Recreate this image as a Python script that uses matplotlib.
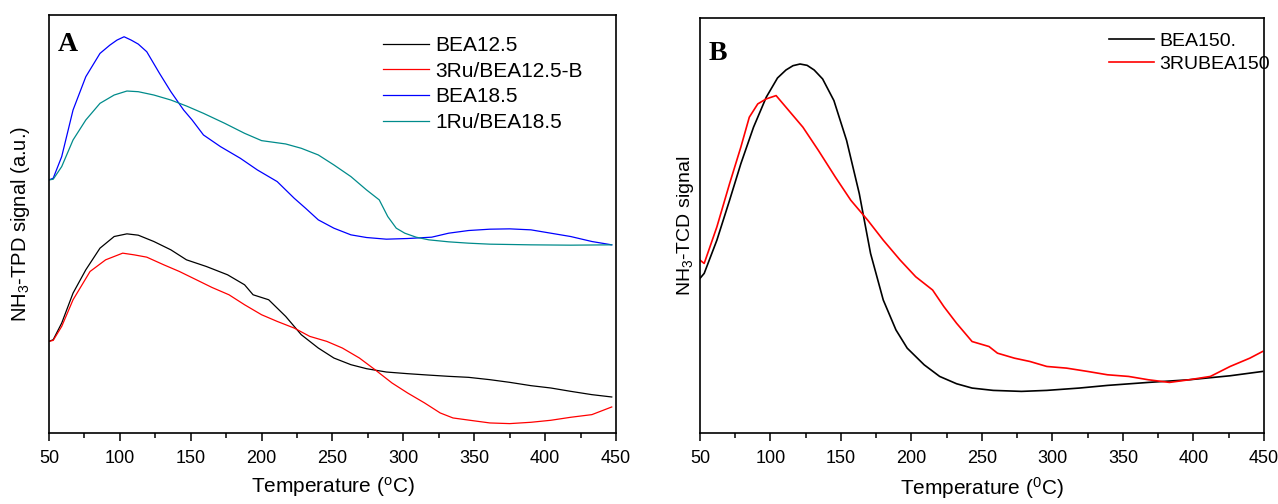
import numpy as np
import matplotlib
matplotlib.use("Agg")
import matplotlib.pyplot as plt
from matplotlib.ticker import MultipleLocator

plt.rcParams['font.family'] = ['Liberation Sans', 'DejaVu Sans']
plt.rcParams['mathtext.default'] = 'regular'

# panel A (signal in arbitrary units)
t_bea125 = [50, 53, 59, 67, 76, 86, 96, 105, 113, 124, 136, 147, 161, 176, 188, 194, 205, 217, 228, 240, 251, 263, 274, 288, 303, 317, 332, 346, 361, 375, 390, 404, 418, 433, 447]
s_bea125 = [275, 280, 330, 420, 490, 555, 590, 598, 594, 575, 550, 520, 500, 475, 445, 415, 400, 350, 295, 255, 225, 205, 193, 183, 178, 174, 170, 167, 160, 152, 142, 135, 125, 115, 108]

t_3ru125 = [50, 53, 59, 67, 79, 90, 102, 110, 119, 131, 142, 154, 165, 177, 188, 200, 211, 223, 234, 246, 257, 269, 280, 292, 303, 315, 326, 335, 347, 361, 375, 390, 404, 418, 433, 447]
s_3ru125 = [275, 278, 320, 400, 485, 520, 540, 535, 528, 505, 485, 460, 437, 415, 385, 355, 335, 315, 290, 275, 255, 225, 190, 150, 120, 90, 60, 45, 38, 30, 28, 32, 38, 47, 55, 78]

t_bea185 = [50, 53, 59, 67, 76, 86, 93, 98, 103, 108, 113, 119, 128, 136, 145, 151, 159, 171, 185, 197, 211, 223, 231, 240, 251, 263, 274, 288, 303, 320, 332, 346, 361, 375, 390, 404, 418, 433, 447]
s_bea185 = [760, 765, 830, 970, 1070, 1140, 1165, 1180, 1190, 1180, 1168, 1145, 1080, 1025, 970, 940, 895, 860, 825, 790, 755, 705, 675, 640, 615, 595, 587, 582, 584, 588, 600, 608, 612, 613, 610, 600, 590, 575, 565]

t_1ru185 = [50, 53, 59, 67, 76, 86, 96, 105, 113, 124, 136, 147, 159, 174, 188, 200, 217, 228, 240, 251, 263, 274, 283, 289, 295, 301, 309, 318, 332, 346, 361, 390, 418, 447]
s_1ru185 = [760, 762, 800, 880, 940, 990, 1015, 1027, 1025, 1015, 1000, 982, 960, 930, 900, 878, 868, 855, 835, 805, 770, 730, 700, 650, 615, 600, 588, 580, 574, 570, 567, 565, 564, 565]

# panel B
t_bea150 = [50, 53, 62, 71, 79, 88, 97, 105, 111, 116, 121, 126, 131, 137, 145, 154, 163, 171, 180, 189, 197, 209, 220, 232, 243, 258, 278, 296, 319, 339, 368, 397, 426, 449]
s_bea150 = [465, 480, 580, 700, 810, 920, 1010, 1068, 1092, 1105, 1110, 1106, 1092, 1065, 1000, 880, 720, 540, 400, 310, 255, 205, 170, 148, 135, 128, 125, 128, 135, 143, 152, 160, 172, 185]

t_3rubea150 = [50, 53, 62, 71, 79, 85, 91, 97, 104, 111, 123, 134, 146, 157, 169, 180, 192, 203, 215, 223, 232, 243, 255, 261, 273, 284, 296, 310, 325, 339, 354, 368, 383, 397, 412, 426, 440, 449]
s_3rubea150 = [520, 510, 620, 750, 860, 950, 990, 1005, 1015, 980, 920, 850, 770, 700, 640, 580, 520, 470, 430, 380, 330, 275, 260, 240, 225, 215, 200, 195, 185, 175, 170, 160, 152, 160, 170, 200, 225, 245]

fig = plt.figure(figsize=(12.78, 5.04), dpi=100)
axA = fig.add_axes([0.0383, 0.141, 0.4437, 0.829])
axB = fig.add_axes([0.5477, 0.141, 0.4413, 0.823])

axA.plot(t_bea125, s_bea125, color='black', lw=0.9, label='BEA12.5')
axA.plot(t_3ru125, s_3ru125, color='#ff0000', lw=0.9, label='3Ru/BEA12.5-B')
axA.plot(t_bea185, s_bea185, color='#0000ff', lw=0.9, label='BEA18.5')
axA.plot(t_1ru185, s_1ru185, color='#008b8b', lw=0.9, label='1Ru/BEA18.5')
axA.set_ylim(0, 1255)
axA.set_ylabel('NH$_3$-TPD signal (a.u.)', fontsize=14.5, labelpad=12)
axA.set_xlabel('Temperature ($^{o}$C)', fontsize=15, labelpad=6)
axA.text(0.015, 0.96, 'A', transform=axA.transAxes, fontsize=20, fontweight='bold',
         family='Liberation Serif', va='top', ha='left')
axA.legend(loc='upper left', bbox_to_anchor=(0.571, 0.975), frameon=False, fontsize=15,
           handlelength=2.2, handletextpad=0.3, labelspacing=0.32, borderpad=0)

axB.plot(t_bea150, s_bea150, color='black', lw=1.2, label='BEA150.')
axB.plot(t_3rubea150, s_3rubea150, color='#ff0000', lw=1.2, label='3RUBEA150')
axB.set_ylim(0, 1248)
axB.set_ylabel('NH$_3$-TCD signal', fontsize=14, labelpad=3)
axB.set_xlabel('Temperature ($^{0}$C)', fontsize=15, labelpad=6)
axB.text(0.015, 0.945, 'B', transform=axB.transAxes, fontsize=20, fontweight='bold',
         family='Liberation Serif', va='top', ha='left')
axB.legend(loc='upper left', bbox_to_anchor=(0.708, 0.99), frameon=False, fontsize=14,
           handlelength=2.3, handletextpad=0.3, labelspacing=0.3, borderpad=0)

for ax in (axA, axB):
    ax.set_xlim(50, 450)
    ax.xaxis.set_major_locator(MultipleLocator(50))
    ax.xaxis.set_minor_locator(MultipleLocator(25))
    ax.tick_params(axis='x', which='major', direction='out', length=6, width=1.1, labelsize=13, pad=6)
    ax.tick_params(axis='x', which='minor', direction='out', length=3.5, width=1.1)
    ax.set_yticks([])
    for sp in ax.spines.values():
        sp.set_linewidth(1.2)

fig.savefig('out.png', dpi=100)
